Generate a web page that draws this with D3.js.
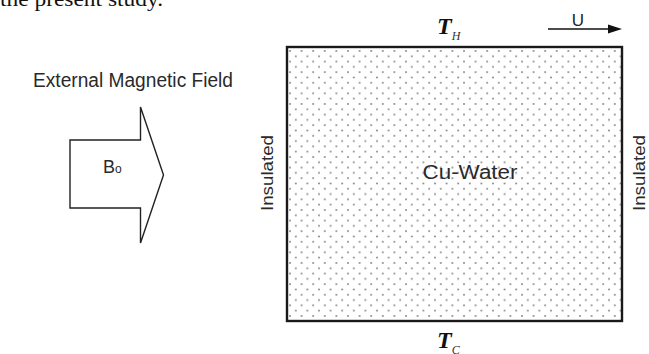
<!DOCTYPE html>
<html>
<head>
<meta charset="utf-8">
<script src="https://cdn.jsdelivr.net/npm/d3@7"></script>
<style>
  html, body { margin: 0; padding: 0; background: #fff; }
  svg { display: block; }
</style>
</head>
<body>
<svg></svg>
<script>
// подписи схемы
const boundaryLabels = ["Insulated", "Insulated"];
const wallTemps = [{ main: "T", sub: "H" }, { main: "T", sub: "C" }];
const fluidLabel = ["Cu-Water"];
const fieldLabels = ["External Magnetic Field", "B", "o"];
const lidLabel = ["U"];
const captionText = ["the present study."];

document.addEventListener("DOMContentLoaded", function() {
    const width = 649;
    const height = 354;
    const svg = d3.select("svg")
        .attr("width", width)
        .attr("height", height);

    // полость в единичных координатах
    const x = d3.scaleLinear().domain([0, 1]).range([287, 622]);
    const y = d3.scaleLinear().domain([0, 1]).range([321, 47]);

    // точечная заливка
    const defs = svg.append("defs");
    const pat = defs.append("pattern")
        .attr("id", "dots")
        .attr("patternUnits", "userSpaceOnUse")
        .attr("x", x(0) + 2)
        .attr("y", y(1) + 3)
        .attr("width", 11.6)
        .attr("height", 10.6);
    pat.append("circle").attr("cx", 1).attr("cy", 1).attr("r", 0.9).attr("fill", "#7a7a7a");
    pat.append("circle").attr("cx", 6.8).attr("cy", 6.3).attr("r", 0.9).attr("fill", "#7a7a7a");

    // подпись сверху (обрезана, как в оригинале)
    svg.append("text")
        .attr("x", 0)
        .attr("y", 6)
        .attr("font-family", "Liberation Serif, Times New Roman, serif")
        .attr("font-size", 22)
        .attr("fill", "#111")
        .attr("textLength", 163)
        .attr("lengthAdjust", "spacingAndGlyphs")
        .text(captionText[0]);

    // полость
    svg.append("rect")
        .attr("x", x(0))
        .attr("y", y(1))
        .attr("width", x(1) - x(0))
        .attr("height", y(0) - y(1))
        .attr("fill", "url(#dots)")
        .attr("stroke", "#1a1a1a")
        .attr("stroke-width", 2.4);

    const sans = "Liberation Sans, Arial, sans-serif";

    // Cu-Water
    svg.append("text")
        .attr("x", 470)
        .attr("y", 179)
        .attr("text-anchor", "middle")
        .attr("font-family", sans)
        .attr("font-size", 20)
        .attr("fill", "#2a2a2a")
        .attr("textLength", 95)
        .attr("lengthAdjust", "spacingAndGlyphs")
        .text(fluidLabel[0]);

    // боковые стенки
    const sideX = [273, 645];
    boundaryLabels.forEach((lbl, i) => {
        svg.append("text")
            .attr("transform", `translate(${sideX[i]}, 173) rotate(-90)`)
            .attr("text-anchor", "middle")
            .attr("font-family", sans)
            .attr("font-size", 17)
            .attr("fill", "#2a2a2a")
            .attr("textLength", 76)
            .attr("lengthAdjust", "spacingAndGlyphs")
            .text(lbl);
    });

    // температуры стенок
    const tempY = [34, 348];
    wallTemps.forEach((t, i) => {
        const g = svg.append("text")
            .attr("x", 437)
            .attr("y", tempY[i])
            .attr("font-family", "Liberation Serif, Times New Roman, serif")
            .attr("font-style", "italic")
            .attr("font-weight", "bold")
            .attr("font-size", 24)
            .attr("fill", "#111");
        g.append("tspan").text(t.main);
        g.append("tspan")
            .attr("font-size", 12)
            .attr("font-weight", "normal")
            .attr("dy", 6)
            .attr("fill", "#333")
            .text(t.sub);
    });

    // скорость крышки
    svg.append("line")
        .attr("x1", 548).attr("x2", 611)
        .attr("y1", 29).attr("y2", 29)
        .attr("stroke", "#111").attr("stroke-width", 1.6);
    svg.append("path")
        .attr("d", "M608,24.5 L622,29 L608,33.5 Z")
        .attr("fill", "#111");
    svg.append("text")
        .attr("x", 578)
        .attr("y", 26)
        .attr("text-anchor", "middle")
        .attr("font-family", sans)
        .attr("font-size", 17)
        .attr("fill", "#222")
        .text(lidLabel[0]);

    // магнитное поле
    svg.append("text")
        .attr("x", 33)
        .attr("y", 87)
        .attr("font-family", sans)
        .attr("font-size", 20)
        .attr("fill", "#2a2a2a")
        .attr("textLength", 200)
        .attr("lengthAdjust", "spacingAndGlyphs")
        .text(fieldLabels[0]);

    const arrow = [[70, 140], [140.5, 140], [140.5, 107], [163.5, 175],
                   [140.5, 243], [140.5, 208], [70, 208]];
    svg.append("path")
        .attr("d", d3.line()(arrow) + "Z")
        .attr("fill", "#fff")
        .attr("stroke", "#222")
        .attr("stroke-width", 1.4);

    const b = svg.append("text")
        .attr("x", 103)
        .attr("y", 173)
        .attr("font-family", sans)
        .attr("font-size", 18)
        .attr("fill", "#2a2a2a");
    b.append("tspan").text(fieldLabels[1]);
    b.append("tspan").attr("font-size", 12).text(fieldLabels[2]);
});
</script>
</body>
</html>
